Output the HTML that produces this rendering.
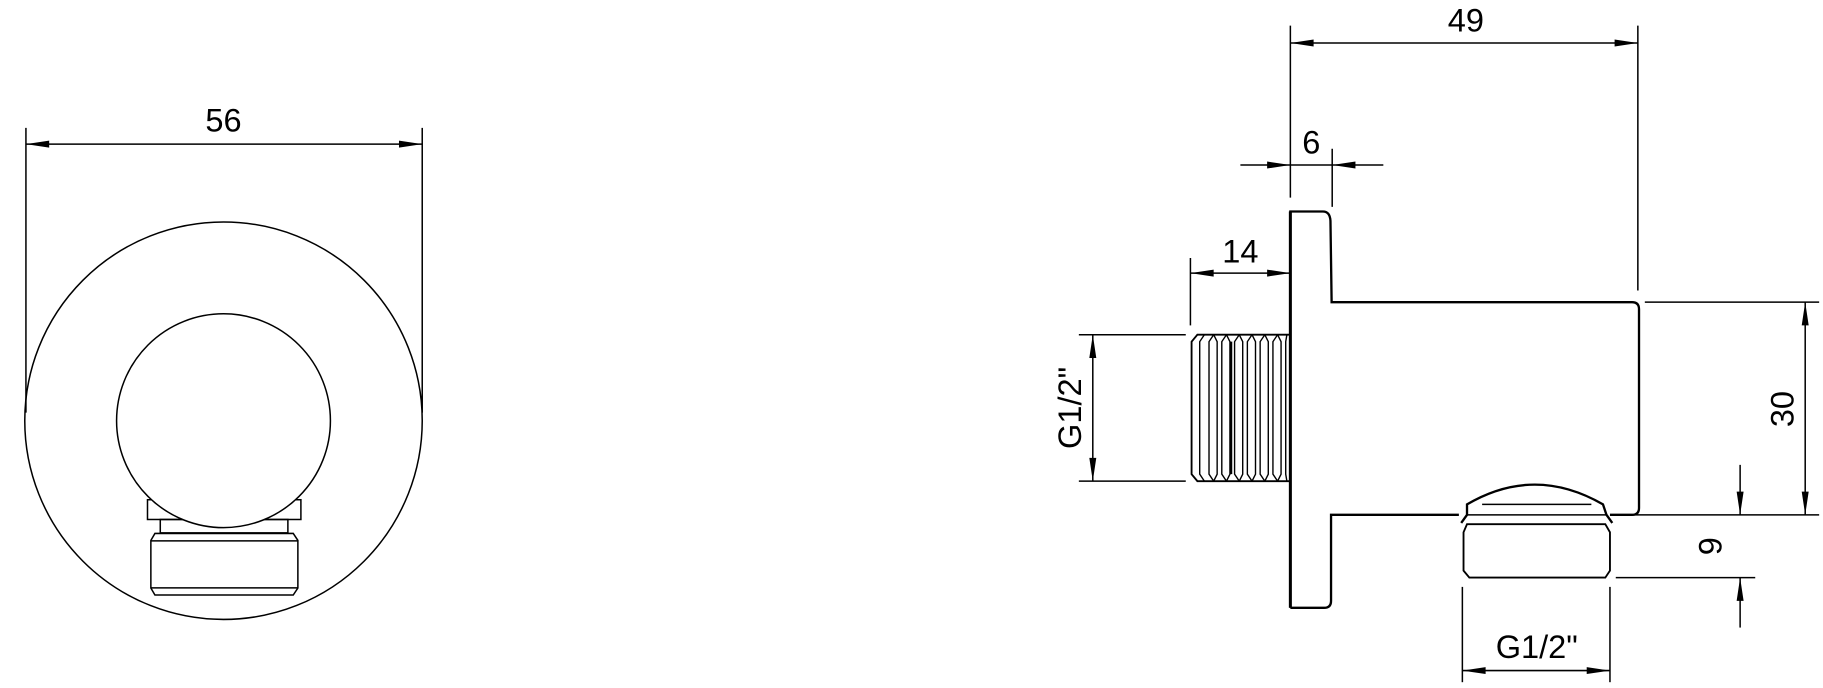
<!DOCTYPE html>
<html><head><meta charset="utf-8"><style>html,body{margin:0;padding:0;background:#fff;}svg{display:block}</style></head>
<body>
<svg width="1823" height="688" viewBox="0 0 1568 592" xmlns="http://www.w3.org/2000/svg" font-family="Liberation Sans, Arial, sans-serif">
<g fill="none" stroke="#000" stroke-width="1.3">
<!-- LEFT VIEW -->
<circle cx="192" cy="362" r="171"/>
<rect x="126.6" y="430" width="132" height="17" fill="#fff"/>
<rect x="137.6" y="447" width="109.8" height="11.5"/>
<path d="M133,459 L252,459 L256,465 L256,506 L252,512 L133,512 L129.5,506 L129.5,465 Z"/>
<line x1="129.5" y1="465.4" x2="256" y2="465.4"/>
<line x1="129.5" y1="505.8" x2="256" y2="505.8"/>
<circle cx="192" cy="362" r="92" fill="#fff"/>
<line x1="22" y1="110" x2="22" y2="355"/>
<line x1="363" y1="110" x2="363" y2="355"/>
<line x1="22" y1="124" x2="363" y2="124"/>
<path d="M22,124 L42,121 L42,127 Z M363,124 L343,121 L343,127 Z" fill="#000" stroke="none"/>
<!-- RIGHT VIEW body -->
<path d="M1110,523 L1110,182 L1138,182 Q1144,182 1144.5,190 L1145.5,260 L1404,260 Q1410,260 1410,266 L1410,437 Q1410,443 1404,443 L1385,443" stroke-width="2"/>
<path d="M1110,523 L1110,182" stroke-width="2.6"/>
<path d="M1110,523 L1139,523 Q1145,523 1145,517 L1145,443 L1255,443" stroke-width="2"/>
<!-- thread -->
<path d="M1110,288 L1030,288 L1025,294 L1025,408 L1030,414 L1110,414" stroke-width="1.6"/>
<g stroke-width="1.2">
<path d="M1036,288 L1032,294 L1032,408 L1036,414"/>
<path d="M1044,288 L1040,294 L1040,408 L1044,414 M1044,288 L1047,294 L1047,408 L1044,414"/>
<path d="M1055,288 L1051,294 L1051,408 L1055,414 M1055,288 L1058,294 L1058,408 L1055,414"/>
<path d="M1066,288 L1062,294 L1062,408 L1066,414 M1066,288 L1069,294 L1069,408 L1066,414"/>
<path d="M1077,288 L1073,294 L1073,408 L1077,414 M1077,288 L1080,294 L1080,408 L1077,414"/>
<path d="M1088,288 L1084,294 L1084,408 L1088,414 M1088,288 L1091,294 L1091,408 L1088,414"/>
<path d="M1099,288 L1095,294 L1095,408 L1099,414 M1099,288 L1102,294 L1102,408 L1099,414"/>
<path d="M1107,288 L1106,294 L1106,408 L1107,414"/>
<line x1="1059" y1="294" x2="1059" y2="408" stroke-width="2"/>
</g>
<!-- nozzle -->
<path d="M1257,450 L1262,443 L1262,434 Q1320,400 1379,434 L1382,443 L1387,450" stroke-width="2"/>
<line x1="1275" y1="434" x2="1369" y2="434"/>
<line x1="1262" y1="443" x2="1382" y2="443"/>
<path d="M1262,451 L1381,451 L1385,458 L1385,491 L1381,497 L1264,497 L1259,491 L1259,458 Z" stroke-width="1.6"/>
<!-- dims -->
<line x1="1110" y1="22" x2="1110" y2="170"/>
<line x1="1409" y1="22" x2="1409" y2="250"/>
<line x1="1110" y1="37" x2="1409" y2="37"/>
<path d="M1110,37 L1130,34 L1130,40 Z M1409,37 L1389,34 L1389,40 Z" fill="#000" stroke="none"/>
<line x1="1067" y1="142" x2="1190" y2="142"/>
<line x1="1146" y1="128" x2="1146" y2="178"/>
<path d="M1110,142 L1090,139 L1090,145 Z M1146,142 L1166,139 L1166,145 Z" fill="#000" stroke="none"/>
<line x1="1024" y1="222" x2="1024" y2="280"/>
<line x1="1024" y1="235" x2="1110" y2="235"/>
<path d="M1024,235 L1044,232 L1044,238 Z M1110,235 L1090,232 L1090,238 Z" fill="#000" stroke="none"/>
<line x1="928" y1="288" x2="1020" y2="288"/>
<line x1="928" y1="414" x2="1020" y2="414"/>
<line x1="940" y1="288" x2="940" y2="414"/>
<path d="M940,288 L937,308 L943,308 Z M940,414 L937,394 L943,394 Z" fill="#000" stroke="none"/>
<line x1="1415" y1="260" x2="1565" y2="260"/>
<line x1="1390" y1="443" x2="1565" y2="443"/>
<line x1="1553" y1="260" x2="1553" y2="443"/>
<path d="M1553,260 L1550,280 L1556,280 Z M1553,443 L1550,423 L1556,423 Z" fill="#000" stroke="none"/>
<line x1="1390" y1="497" x2="1510" y2="497"/>
<line x1="1497" y1="400" x2="1497" y2="443"/>
<line x1="1497" y1="497" x2="1497" y2="540"/>
<path d="M1497,443 L1494,423 L1500,423 Z M1497,497 L1494,517 L1500,517 Z" fill="#000" stroke="none"/>
<line x1="1258" y1="505" x2="1258" y2="587"/>
<line x1="1385" y1="505" x2="1385" y2="587"/>
<line x1="1258" y1="577" x2="1385" y2="577"/>
<path d="M1258,577 L1278,574 L1278,580 Z M1385,577 L1365,574 L1365,580 Z" fill="#000" stroke="none"/>
</g>
<g fill="#000" font-size="28" text-anchor="middle">
<text x="192" y="113">56</text>
<text x="1261" y="27">49</text>
<text x="1128" y="132">6</text>
<text x="1067" y="226">14</text>
<text x="1322" y="566">G1/2"</text>
<text transform="translate(930,351) rotate(-90)">G1/2"</text>
<text transform="translate(1543,352) rotate(-90)">30</text>
<text transform="translate(1481,470) rotate(-90)">9</text>
</g>
</svg>
</body></html>
